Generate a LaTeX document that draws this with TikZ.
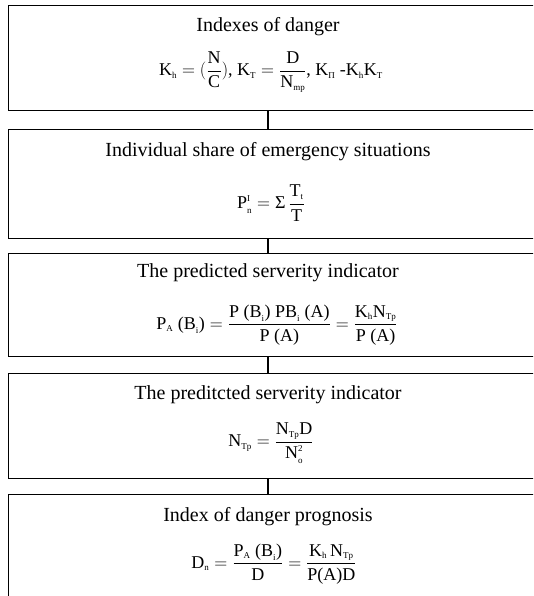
\RequirePackage{fix-cm}
\documentclass[tikz,border=0pt]{standalone}
\usepackage{amsmath}
\usepackage{fontspec}
\setmainfont{Liberation Serif}
\newcommand\lo[1]{{\scriptscriptstyle\text{#1}}}
\tikzset{
  stage/.style={draw=black, line width=1.3pt, minimum width=537pt, anchor=north west, inner sep=0pt},
  ttl/.style={font=\fontsize{20}{23}\selectfont, inner sep=0pt},
  frm/.style={font=\fontsize{18}{21}\selectfont, inner sep=0pt},
  link/.style={draw=black, line width=1.3pt}
}
\begin{document}
\begin{tikzpicture}[x=1pt,y=-1pt]
\useasboundingbox (0,0) rectangle (533,596);
\clip (0,0) rectangle (533,596);
\node[stage, minimum height=105pt] (b1) at (8,5) {};
\node[stage, minimum height=109pt] (b2) at (8,129) {};
\node[stage, minimum height=103pt] (b3) at (8,253) {};
\node[stage, minimum height=105pt] (b4) at (8,373) {};
\node[stage, minimum height=130pt] (b5) at (8,494) {};

\node[ttl] (t1) at (268,27) {Indexes of danger};
\node[frm] (f1) at (271,72) {$\displaystyle \text{K}_{\lo{h}} = (\frac{\text{N}}{\text{C}})\text{, K}_{\lo{T}} = \frac{\text{D}}{\text{N}_{\lo{mp}}}\text{, K}_{\lo{П}}\text{ -K}_{\lo{h}}\text{K}_{\lo{T}}$};

\node[ttl] (t2) at (268,152) {Individual share of emergency situations};
\node[frm] (f2) at (271,203) {$\displaystyle \text{P}^{\lo{I}}_{\lo{n}} = \text{Σ}\,\frac{\text{T}_{\lo{t}}}{\text{T}}$};

\node[ttl] (t3) at (268,273) {The predicted serverity indicator};
\node[frm] (f3) at (277,325) {$\displaystyle \text{P}_{\lo{A}}\text{ (B}_{\lo{i}}\text{)} = \frac{\text{P (B}_{\lo{i}}\text{) PB}_{\lo{i}}\text{ (A)}}{\text{P (A)}} = \frac{\text{K}_{\lo{h}}\text{N}_{\lo{Tp}}}{\text{P (A)}}$};

\node[ttl] (t4) at (268,395) {The preditcted serverity indicator};
\node[frm] (f4) at (271,443) {$\displaystyle \text{N}_{\lo{Tp}} = \frac{\text{N}_{\lo{Tp}}\text{D}}{\text{N}^{\lo{2}}_{\lo{o}}}$};

\node[ttl] (t5) at (268,517) {Index of danger prognosis};
\node[frm] (f5) at (274,564) {$\displaystyle \text{D}_{\lo{n}} = \frac{\text{P}_{\lo{A}}\text{ (B}_{\lo{i}}\text{)}}{\text{D}} = \frac{\text{K}_{\lo{h}}\,\text{N}_{\lo{Tp}}}{\text{P(A)D}}$};

\draw[link] (b1.south -| t1) -- (b2.north -| t1);
\draw[link] (b2.south -| t2) -- (b3.north -| t2);
\draw[link] (b3.south -| t3) -- (b4.north -| t3);
\draw[link] (b4.south -| t4) -- (b5.north -| t4);
\end{tikzpicture}
\end{document}
